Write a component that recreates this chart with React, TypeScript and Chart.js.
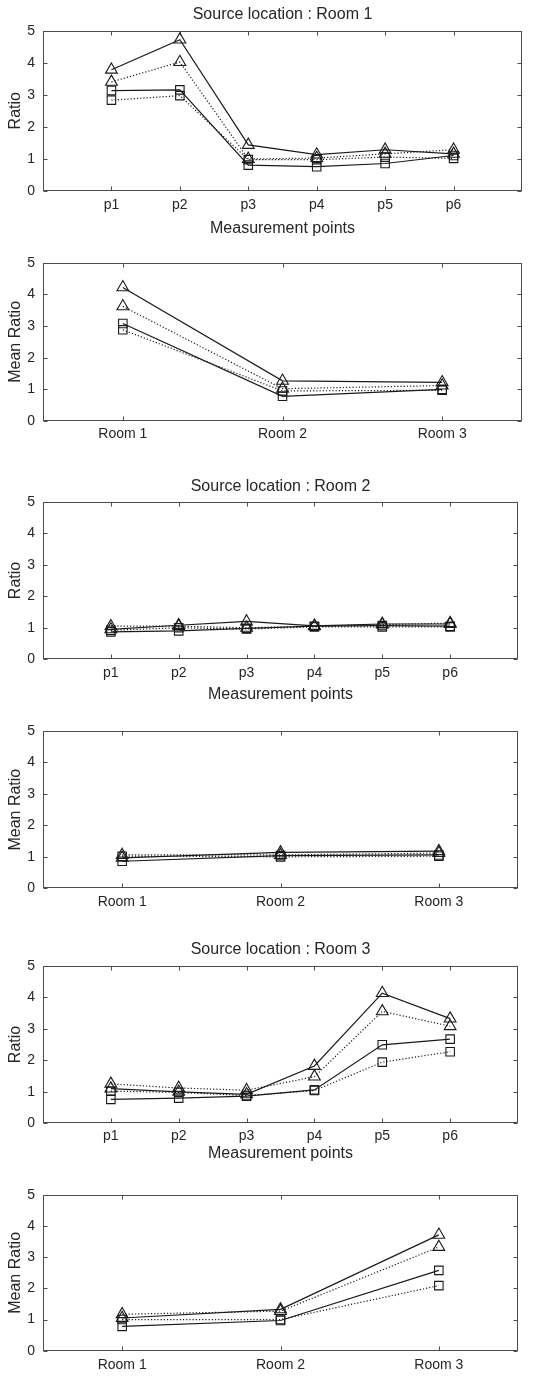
import React, { useEffect, useRef } from "react";
import { Chart, registerables } from "chart.js";

Chart.register(...registerables);

// ---------- data ----------
const pointLabels = ["p1", "p2", "p3", "p4", "p5", "p6"];
const roomLabels = ["Room 1", "Room 2", "Room 3"];
const panelTitles = ["Source location : Room 1", "Source location : Room 2", "Source location : Room 3"];
const xAxisTitle = "Measurement points";
const yTitlePoints = "Ratio";
const yTitleMean = "Mean Ratio";

// Source location: Room 1 — per measurement point
const s1PointsSolidTri = [3.78, 4.72, 1.43, 1.13, 1.28, 1.15];
const s1PointsDottedTri = [3.4, 4.02, 0.99, 1.02, 1.15, 1.28];
const s1PointsSolidSq = [3.13, 3.15, 0.8, 0.75, 0.85, 1.1];
const s1PointsDottedSq = [2.83, 2.97, 0.97, 0.97, 1.05, 1.01];
// Source location: Room 1 — mean per room
const s1MeanSolidTri = [4.22, 1.27, 1.22];
const s1MeanDottedTri = [3.62, 1.02, 1.12];
const s1MeanSolidSq = [3.08, 0.78, 1.0];
const s1MeanDottedSq = [2.88, 0.95, 0.97];

// Source location: Room 2 — per measurement point
const s2PointsSolidTri = [0.95, 1.08, 1.2, 1.06, 1.12, 1.12];
const s2PointsDottedTri = [1.05, 1.05, 1.0, 1.05, 1.1, 1.15];
const s2PointsSolidSq = [0.87, 0.9, 0.98, 1.05, 1.07, 1.05];
const s2PointsDottedSq = [0.92, 1.0, 0.96, 1.03, 1.03, 1.03];
// Source location: Room 2 — mean per room
const s2MeanSolidTri = [0.97, 1.14, 1.18];
const s2MeanDottedTri = [1.06, 1.06, 1.12];
const s2MeanSolidSq = [0.86, 1.04, 1.06];
const s2MeanDottedSq = [1.02, 1.0, 1.02];

// Source location: Room 3 — per measurement point
const s3PointsSolidTri = [1.1, 1.0, 0.92, 1.82, 4.13, 3.32];
const s3PointsDottedTri = [1.25, 1.12, 1.05, 1.48, 3.55, 3.08];
const s3PointsSolidSq = [0.76, 0.8, 0.86, 1.06, 2.49, 2.67];
const s3PointsDottedSq = [1.02, 0.98, 0.88, 1.04, 1.94, 2.27];
// Source location: Room 3 — mean per room
const s3MeanSolidTri = [1.05, 1.33, 3.72];
const s3MeanDottedTri = [1.17, 1.27, 3.33];
const s3MeanSolidSq = [0.78, 0.97, 2.58];
const s3MeanDottedSq = [1.0, 1.0, 2.09];

const yTickValues = [0, 1, 2, 3, 4, 5];

// ---------- layout / style ----------
const W = 543;
const FONT = "'Liberation Sans', Arial, Helvetica, sans-serif";
const TEXT = "#262626";
const AXIS = "#4d4d4d";
const TICK_SIZE = 14;
const TITLE_SIZE = 16;
const AXTITLE_SIZE = 16;
const PLOT_LEFT = 43;

type PanelDef = {
  canvasTop: number;
  canvasH: number;
  plotTop: number;
  plotBottom: number;
  plotRight: number;
  labels: string[];
  series: number[][];
  title?: string;
  titleY?: number;
  xTitle?: string;
  xTitleY?: number;
  yTitle: string;
  tickGap: number;
};

const panels: PanelDef[] = [
  {
    canvasTop: 0, canvasH: 245, plotTop: 30.7, plotBottom: 190.7, plotRight: 522,
    labels: pointLabels,
    series: [s1PointsSolidTri, s1PointsDottedTri, s1PointsSolidSq, s1PointsDottedSq],
    title: panelTitles[0], titleY: 14.5, xTitle: xAxisTitle, xTitleY: 228.3, yTitle: yTitlePoints, tickGap: 6,
  },
  {
    canvasTop: 245, canvasH: 210, plotTop: 262.7, plotBottom: 421, plotRight: 522,
    labels: roomLabels,
    series: [s1MeanSolidTri, s1MeanDottedTri, s1MeanSolidSq, s1MeanDottedSq],
    yTitle: yTitleMean, tickGap: 5,
  },
  {
    canvasTop: 460, canvasH: 245, plotTop: 501.7, plotBottom: 659.3, plotRight: 518,
    labels: pointLabels,
    series: [s2PointsSolidTri, s2PointsDottedTri, s2PointsSolidSq, s2PointsDottedSq],
    title: panelTitles[1], titleY: 486.7, xTitle: xAxisTitle, xTitleY: 695, yTitle: yTitlePoints, tickGap: 5,
  },
  {
    canvasTop: 705, canvasH: 215, plotTop: 731, plotBottom: 888.3, plotRight: 518,
    labels: roomLabels,
    series: [s2MeanSolidTri, s2MeanDottedTri, s2MeanSolidSq, s2MeanDottedSq],
    yTitle: yTitleMean, tickGap: 5,
  },
  {
    canvasTop: 925, canvasH: 245, plotTop: 965.7, plotBottom: 1123.3, plotRight: 518,
    labels: pointLabels,
    series: [s3PointsSolidTri, s3PointsDottedTri, s3PointsSolidSq, s3PointsDottedSq],
    title: panelTitles[2], titleY: 950, xTitle: xAxisTitle, xTitleY: 1153.3, yTitle: yTitlePoints, tickGap: 4,
  },
  {
    canvasTop: 1170, canvasH: 206, plotTop: 1195, plotBottom: 1350.7, plotRight: 518,
    labels: roomLabels,
    series: [s3MeanSolidTri, s3MeanDottedTri, s3MeanSolidSq, s3MeanDottedSq],
    yTitle: yTitleMean, tickGap: 6,
  },
];

const seriesStyles = [
  { dash: [] as number[], style: "triangle", radius: 6.8 },
  { dash: [1.2, 2] as number[], style: "triangle", radius: 6.8 },
  { dash: [] as number[], style: "rect", radius: 6 },
  { dash: [1.2, 2] as number[], style: "rect", radius: 6 },
];

const boxPlugin = {
  id: "matlabBox",
  beforeDatasetsDraw(chart: any) {
    const { ctx, chartArea } = chart;
    const xs = chart.scales.x;
    const ys = chart.scales.y;
    const l = Math.round(chartArea.left) + 0.5;
    const r = Math.round(chartArea.right) - 0.5;
    const t = Math.round(chartArea.top) + 0.5;
    const b = Math.round(chartArea.bottom) - 0.5;
    ctx.save();
    ctx.strokeStyle = AXIS;
    ctx.lineWidth = 1;
    ctx.setLineDash([]);
    ctx.strokeRect(l, t, r - l, b - t);
    const tl = 4;
    ctx.beginPath();
    xs.ticks.forEach((tk: any) => {
      const px = Math.round(xs.getPixelForValue(tk.value)) + 0.5;
      ctx.moveTo(px, b);
      ctx.lineTo(px, b - tl);
      ctx.moveTo(px, t);
      ctx.lineTo(px, t + tl);
    });
    ys.ticks.forEach((tk: any) => {
      const py = Math.round(ys.getPixelForValue(tk.value)) + 0.5;
      ctx.moveTo(l, py);
      ctx.lineTo(l + tl, py);
      ctx.moveTo(r, py);
      ctx.lineTo(r - tl, py);
    });
    ctx.stroke();
    ctx.restore();
  },
};

function PanelChart({ p }: { p: PanelDef }) {
  const ref = useRef<HTMLCanvasElement | null>(null);
  useEffect(() => {
    if (!ref.current) return;
    const localPlotTop = p.plotTop - p.canvasTop;
    const localPlotBottom = p.plotBottom - p.canvasTop;
    const titleLH = TITLE_SIZE * 1.2;
    const axLH = AXTITLE_SIZE * 1.2;
    const n = p.labels.length;
    const isPoints = n === 6;
    const xMin = isPoints ? 0 : 0.5;
    const xMax = isPoints ? 7 : 3.5;

    let titleOpts: any = { display: false };
    let padTop = localPlotTop;
    if (p.title) {
      const centerLocal = (p.titleY as number) - p.canvasTop;
      const ptop = centerLocal - titleLH / 2;
      const pbottom = localPlotTop - centerLocal - titleLH / 2;
      titleOpts = {
        display: true,
        text: p.title,
        fullSize: false,
        color: TEXT,
        font: { family: FONT, size: TITLE_SIZE, weight: "normal", lineHeight: 1.2 },
        padding: { top: ptop, bottom: pbottom },
      };
      padTop = 0;
    }

    const xScaleHeight = p.canvasH - localPlotBottom;
    let xTitleOpts: any = { display: false };
    if (p.xTitle) {
      const centerBelow = (p.xTitleY as number) - p.plotBottom;
      xTitleOpts = {
        display: true,
        text: p.xTitle,
        color: TEXT,
        font: { family: FONT, size: AXTITLE_SIZE, lineHeight: 1.2 },
        padding: { top: 0, bottom: xScaleHeight - centerBelow - axLH / 2 },
      };
    }

    const chart = new Chart(ref.current, {
      type: "line",
      data: {
        datasets: p.series.map((vals, i) => ({
          data: vals.map((v, j) => ({ x: j + 1, y: v })),
          borderColor: "#1a1a1a",
          borderWidth: 1.2,
          borderDash: seriesStyles[i].dash,
          pointStyle: seriesStyles[i].style as any,
          pointRadius: seriesStyles[i].radius,
          pointBorderColor: "#1a1a1a",
          pointBorderWidth: 1.1,
          pointBackgroundColor: "rgba(0,0,0,0)",
          fill: false,
          tension: 0,
        })),
      },
      options: {
        responsive: false,
        animation: false,
        events: [],
        layout: { padding: { top: padTop, left: 0, right: W - p.plotRight, bottom: 0 } },
        plugins: {
          legend: { display: false },
          tooltip: { enabled: false },
          title: titleOpts,
        },
        scales: {
          x: {
            type: "linear",
            min: xMin,
            max: xMax,
            afterBuildTicks: (s: any) => {
              s.ticks = p.labels.map((_, i) => ({ value: i + 1 }));
            },
            afterFit: (s: any) => {
              s.height = xScaleHeight;
            },
            ticks: {
              autoSkip: false,
              maxRotation: 0,
              padding: p.tickGap,
              color: TEXT,
              font: { family: FONT, size: TICK_SIZE },
              callback: (v: any) => p.labels[Math.round(Number(v)) - 1] ?? "",
            },
            grid: { display: false, drawTicks: false },
            border: { display: false },
            title: xTitleOpts,
          },
          y: {
            type: "linear",
            min: 0,
            max: 5,
            afterBuildTicks: (s: any) => {
              s.ticks = yTickValues.map((v) => ({ value: v }));
            },
            afterFit: (s: any) => {
              s.width = PLOT_LEFT;
            },
            ticks: {
              padding: 8,
              color: TEXT,
              font: { family: FONT, size: TICK_SIZE },
              callback: (v: any) => String(v),
            },
            grid: { display: false, drawTicks: false },
            border: { display: false },
            title: {
              display: true,
              text: p.yTitle,
              color: TEXT,
              font: { family: FONT, size: AXTITLE_SIZE, lineHeight: 1.2 },
              padding: { top: 16 - axLH / 2, bottom: 0 },
            },
          },
        },
      },
      plugins: [boxPlugin],
    });
    return () => chart.destroy();
  }, [p]);
  return (
    <canvas
      ref={ref}
      width={W}
      height={p.canvasH}
      style={{ position: "absolute", left: 0, top: p.canvasTop, width: W, height: p.canvasH }}
    />
  );
}

export default function App() {
  return (
    <div style={{ position: "absolute", left: 0, top: 0, width: W, height: 1376, background: "#fff" }}>
      {panels.map((p, i) => (
        <PanelChart key={i} p={p} />
      ))}
    </div>
  );
}
